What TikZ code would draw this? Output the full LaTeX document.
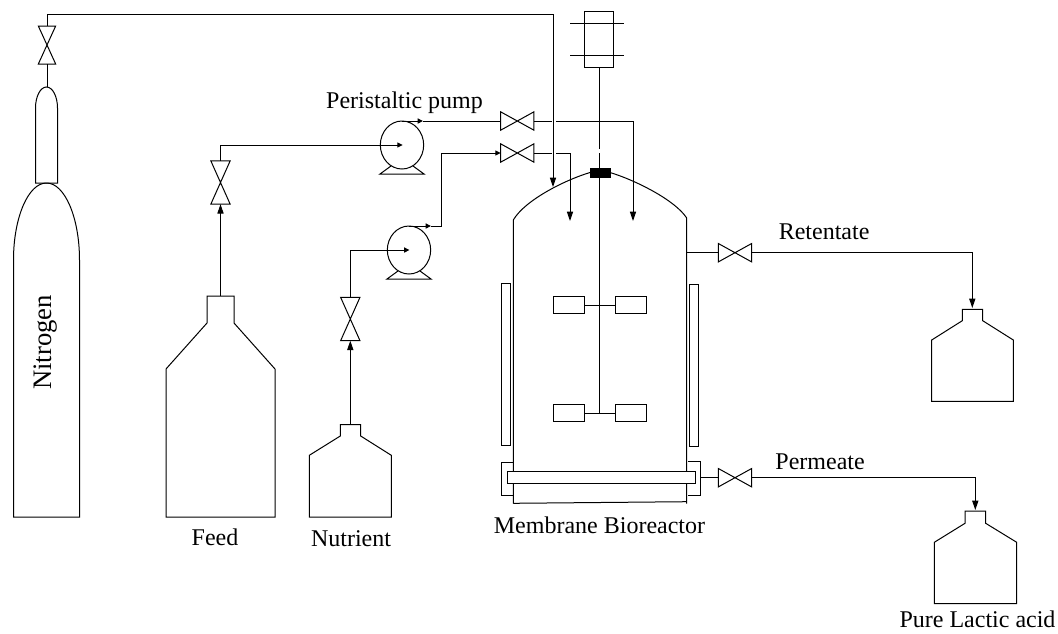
\documentclass[tikz,border=0pt]{standalone}
\usepackage{fontspec}
\setmainfont{Liberation Serif}
\usetikzlibrary{arrows.meta,shapes.geometric,calc}
\tikzset{
  pipe/.style={line width=0.75pt},
  big/.style={-{Triangle[length=7pt,width=4.6pt]},line width=0.75pt},
  small/.style={-{Triangle[length=4pt,width=3.8pt]},line width=0.75pt},
  lab/.style={font=\fontsize{18}{20}\selectfont,inner sep=0pt,anchor=base},
  hv/.style={minimum width=25pt,minimum height=13.8pt,inner sep=0pt,outer sep=0pt},
  vv/.style={minimum width=14.5pt,minimum height=32.5pt,inner sep=0pt,outer sep=0pt},
  pumpbody/.style={draw,ellipse,line width=0.75pt,inner sep=0pt,outer sep=0pt,minimum width=32.5pt,minimum height=36pt},
  box/.style={draw,line width=0.75pt,inner sep=0pt,outer sep=0pt},
  blade/.style={box,minimum width=23.25pt,minimum height=13pt},
}
\newcommand{\hvalve}[3]{\node[hv] (#1) at (#2,#3) {};
  \draw[pipe] (#1.south west)--(#1.north west)--(#1.south east)--(#1.north east)--cycle;}
\newcommand{\vvalve}[4][]{\node[vv,#1] (#2) at (#3,#4) {};
  \draw[pipe] (#2.north west)--(#2.north east)--(#2.south west)--(#2.south east)--cycle;}
\newcommand{\pumpat}[3]{\node[pumpbody] (#1) at (#2,#3) {};
  \draw[pipe] (#2-11,#3+21) -- (#2-22,#3+29) -- (#2+22,#3+29) -- (#2+11,#3+21);}
\begin{document}
\begin{tikzpicture}[x=0.75pt,y=-0.75pt]
\useasboundingbox (0,0) rectangle (1058,633);
% Nitrogen cylinder
\draw[pipe] (35.5,183) -- (35.5,108) arc[start angle=180,end angle=360,x radius=11,y radius=21] -- (57.5,183) -- cycle;
\draw[pipe] (13.5,517) -- (13.5,260) arc[start angle=180,end angle=360,x radius=33,y radius=77] -- (79.5,517) -- cycle;
\coordinate (cyl) at (47,87);
\coordinate (domeN) at (553,187);
\vvalve[minimum width=13pt,minimum height=28.5pt]{vN}{47}{45}
\draw[pipe] (cyl) -- (vN.south);
\draw[big] (vN.north) |- (553,14) -- (domeN);
\node[lab,rotate=90,font=\fontsize{20}{22}\selectfont] (tN) at (51.7,342.5) {Nitrogen};
% Feed
\draw[pipe] (207,323) -- (207,296) -- (234,296) -- (234,323) -- (275,369) -- (275,517) -- (166,517) -- (166,369) -- cycle;
\coordinate (feedtop) at (220.5,296);
\vvalve{vF}{220.5}{182.5}
\draw[big] (feedtop) -- (vF.south);
\pumpat{pA}{402}{145}
\coordinate (pAc) at (402.7,145);
\draw[small] (vF.north) |- (pAc);
\node[lab] (tF) at (215,545) {Feed};
% Nutrient
\draw[pipe] (340.3,436) -- (340.3,424.7) -- (360.7,424.7) -- (360.7,436) -- (391.3,455.3) -- (391.3,517) -- (309.3,517) -- (309.3,455.3) -- cycle;
\coordinate (nuttop) at (350.3,424.7);
\vvalve{vB}{350.3}{319}
\draw[big] (nuttop) -- (vB.south);
\pumpat{pB}{409}{250}
\coordinate (pBc) at (409.5,250);
\draw[small] (vB.north) |- (pBc);
\node[lab] (tU) at (351,546.7) {Nutrient};
% Pipes to reactor
\hvalve{vA}{517.3}{121}
\hvalve{vC}{517.3}{153}
\coordinate (inR) at (633,221);
\coordinate (inL) at (570,221);
\draw[small] (pA.north) -- (423,121);
\draw[pipe] (423,121) -- (vA.west);
\draw[pipe] (vA.east) -- (551.7,121);
\draw[big] (556,121) -| (inR);
\draw[small] (pB.north) -- (431,226);
\draw[pipe] (431,226) -| (441,153);
\draw[small] (441,153) -- (vC.west);
\draw[pipe] (vC.east) -- (551.7,153);
\draw[big] (556,153) -| (inL);
% Motor
\node[box,minimum width=21.5pt,minimum height=41.7pt] (motor) at (599,39.5) {};
\draw[pipe] (570,23) -- (624,23) (570,55.5) -- (624,55.5);
\node[draw,fill=black,inner sep=0pt,outer sep=0pt,minimum width=15pt,minimum height=6.75pt] (seal) at (600,172.5) {};
\draw[pipe] (motor.south) -- (599,149) (599,153) -- (599,168);
% Vessel
\draw[pipe] (513.3,503.5) -- (513.3,220) .. controls (525,200) and (565,180) .. (seal.west);
\draw[pipe] (seal.east) .. controls (635,180) and (675,200) .. (686.7,218) -- (686.7,503.5);
\draw[pipe] (513.3,503.3) -- (686.7,501.7);
\coordinate (shaftend) at (599.3,413.3);
\draw[pipe] (seal.south -| shaftend) -- (shaftend);
\node[blade] (i1) at (568.8,305.3) {};
\node[blade] (i2) at (631,305.3) {};
\node[blade] (i3) at (568.6,413.3) {};
\node[blade] (i4) at (631,413.3) {};
\draw[pipe] (i1.east) -- (i2.west) (i3.east) -- (i4.west);
\node[box,minimum width=6.75pt,minimum height=121.3pt] (jL) at (506.2,364.2) {};
\node[box,minimum width=6.5pt,minimum height=121.3pt] (jR) at (693.7,365.2) {};
\draw[pipe] (513,462) -- (501,462) -- (501,495) -- (513,495);
\draw[pipe] (688,461) -- (700,461) -- (700,495) -- (688,495);
\node[box,fill=white,minimum width=141pt,minimum height=9pt] (mem) at (601,477) {};
\node[lab] (tM) at (599.5,533.3) {Membrane Bioreactor};
\node[lab] (tP) at (404.5,108.3) {Peristaltic pump};
% Retentate
\hvalve{vR}{735}{252.7}
\coordinate (retout) at (686.7,252.7);
\draw[pipe] (retout) -- (vR.west);
\draw[pipe] (931.7,340) -- (962.3,320.7) -- (962.3,309.3) -- (982.7,309.3) -- (982.7,320.7) -- (1013.3,340) -- (1013.3,401.3) -- (931.7,401.3) -- cycle;
\coordinate (rettop) at (972.3,308);
\draw[big] (vR.east) -| (rettop);
\node[lab,anchor=base west] (tR) at (778.5,239) {Retentate};
% Permeate
\hvalve{vP}{735}{477.7}
\coordinate (perout) at (700,477.7);
\draw[pipe] (perout) -- (vP.west);
\draw[pipe] (934.3,542.3) -- (965,523.3) -- (965,511) -- (985.7,511) -- (985.7,523.3) -- (1016.7,542.3) -- (1016.7,603.7) -- (934.3,603.7) -- cycle;
\coordinate (pertop) at (975.3,510);
\draw[big] (vP.east) -| (pertop);
\node[lab,anchor=base west] (tE) at (775.2,469.5) {Permeate};
\node[lab] (tL) at (977.5,627.5) {Pure Lactic acid};
\end{tikzpicture}
\end{document}
